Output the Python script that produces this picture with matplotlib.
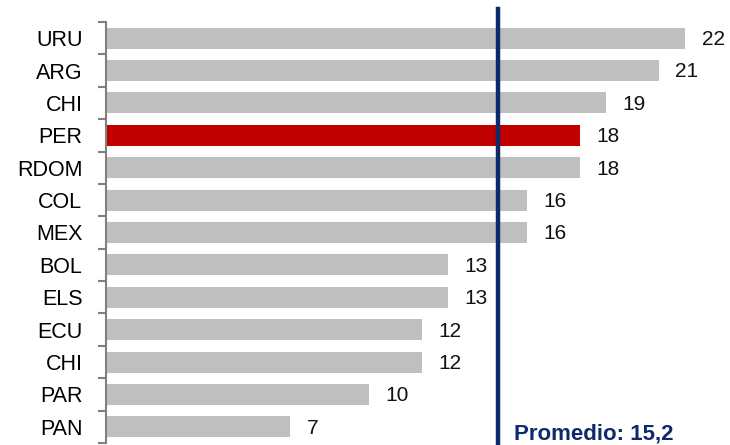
import numpy as np
import matplotlib.pyplot as plt

plt.rcParams['font.family'] = ['Liberation Sans', 'DejaVu Sans']

# datos
paises = ["URU", "ARG", "CHI", "PER", "RDOM", "COL", "MEX", "BOL", "ELS", "ECU", "CHI", "PAR", "PAN"]
valores = np.array([22, 21, 19, 18, 18, 16, 16, 13, 13, 12, 12, 10, 7], dtype=float)
resaltado = "PER"
promedio_pos = 14.9      # posición de la línea tal como aparece
promedio_txt = "Promedio: 15,2"

colores = ['#C00000' if p == resaltado else '#BFBFBF' for p in paises]
y = np.arange(len(paises))

fig = plt.figure(figsize=(7.3, 4.45), dpi=100)
ax = fig.add_axes([106 / 730, 2 / 445, 617 / 730, 421 / 445])

ax.barh(y, valores, height=0.65, color=colores, edgecolor='none', zorder=2)

for yi, v in zip(y, valores):
    ax.annotate(f"{v:.0f}", xy=(v, yi), xytext=(12, -1), textcoords='offset points',
                ha='left', va='center', fontsize=15, color='#111111')

# línea del promedio
ax.axvline(promedio_pos, ymin=-0.01, ymax=1.03, color='#0D2A6B', linewidth=3.2,
           clip_on=False, zorder=3)
ax.text(promedio_pos + 0.6, 12.22, promedio_txt, ha='left', va='center',
        fontsize=16, fontweight='bold', color='#0D2A6B')

ax.set_xlim(0, 23.45)
ax.set_ylim(12.5, -0.5)
ax.set_yticks(y)
ax.set_yticklabels(paises, fontsize=15.5)
ax.set_yticks(np.arange(-0.5, len(paises), 1.0), minor=True)
ax.tick_params(axis='y', which='major', length=0, pad=17)
ax.tick_params(axis='y', which='minor', length=6, width=1.5, color='#808080', direction='out')
ax.set_xticks([])

for s in ['top', 'right', 'bottom']:
    ax.spines[s].set_visible(False)
ax.spines['left'].set_color('#808080')
ax.spines['left'].set_linewidth(1.5)

fig.savefig('out.png', dpi=100)
